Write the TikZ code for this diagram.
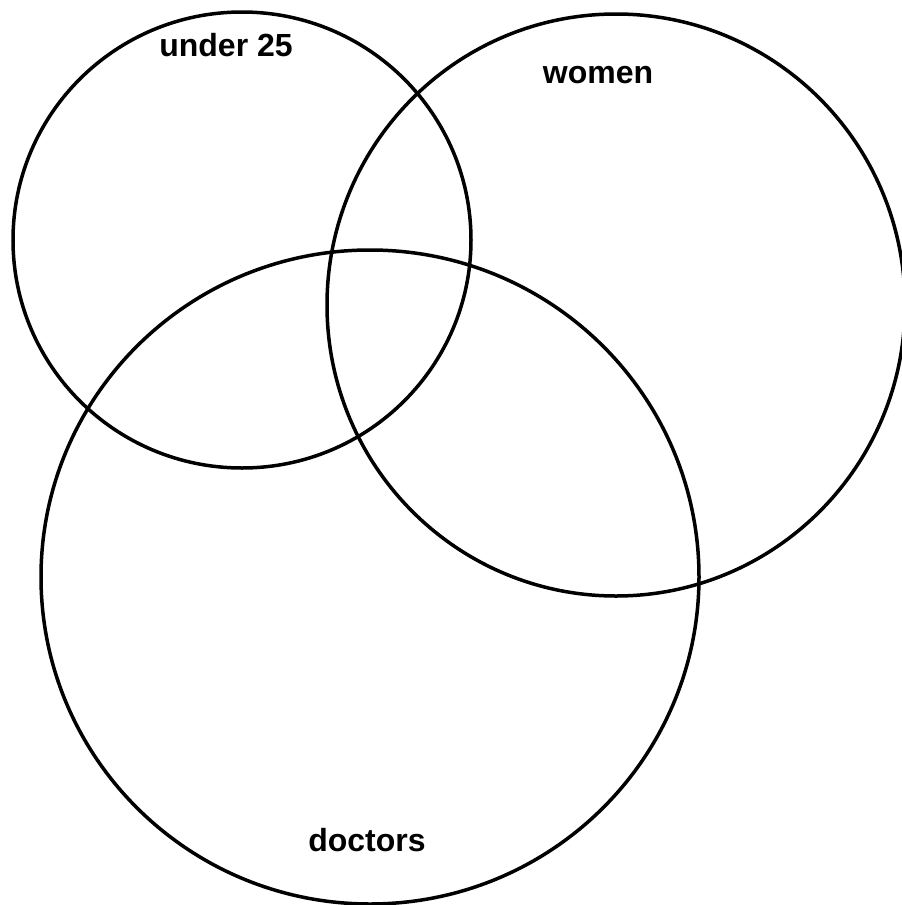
\documentclass[tikz,border=0pt]{standalone}
\usepackage{fontspec}
\setmainfont{Liberation Sans}
\begin{document}
\begin{tikzpicture}[x=1pt,y=-1pt,
  venn/.style={draw=black,line width=3.5pt},
  lbl/.style={font=\bfseries\fontsize{32}{38}\selectfont,inner sep=0pt}]
\useasboundingbox (0,0) rectangle (902,905);
\draw[venn] (242,240) ellipse [x radius=229, y radius=228];
\draw[venn] (616,305) ellipse [x radius=289, y radius=291];
\draw[venn] (370,577) ellipse [x radius=329, y radius=327];
\node[lbl,anchor=base] (u) at (226,56) {under 25};
\node[lbl,anchor=base] (w) at (598,83) {women};
\node[lbl,anchor=base] (d) at (367,851) {doctors};
\end{tikzpicture}
\end{document}
